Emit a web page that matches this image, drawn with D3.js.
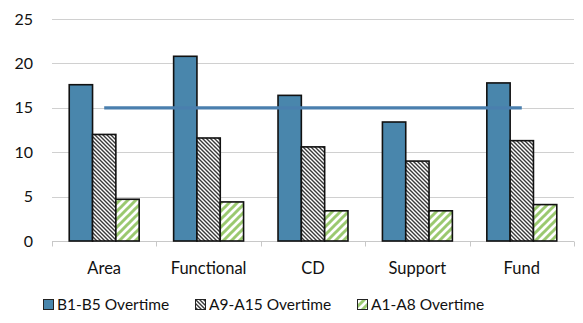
<!DOCTYPE html>
<html>
<head>
<meta charset="utf-8">
<script src="https://cdn.jsdelivr.net/npm/d3@7/dist/d3.min.js"></script>
<style>
  html, body { margin: 0; padding: 0; background: #fff; }
  svg { display: block; font-family: Lato, "Open Sans", sans-serif; }
</style>
</head>
<body>
<svg id="chart" width="583" height="323"></svg>
<script>
// Overtime hours by unit type
const categories = ["Area", "Functional", "CD", "Support", "Fund"];
const seriesNames = ["B1-B5 Overtime", "A9-A15 Overtime", "A1-A8 Overtime"];
const b1b5 = [17.6, 20.8, 16.4, 13.4, 17.8];
const a9a15 = [12.0, 11.6, 10.6, 9.0, 11.3];
const a1a8 = [4.7, 4.4, 3.4, 3.4, 4.1];
const target = [15, 15, 15, 15, 15];
const yTicks = [0, 5, 10, 15, 20, 25];

const series = [b1b5, a9a15, a1a8];
const fills = ["#4986ac", "url(#hatchDark)", "url(#hatchGreen)"];

const svg = d3.select("#chart");
const margin = { left: 52, right: 9, top: 19, bottom: 82 };
const W = 583, H = 323;

// patterns
const defs = svg.append("defs");
const pd = defs.append("pattern").attr("id", "hatchDark")
  .attr("patternUnits", "userSpaceOnUse").attr("width", 4).attr("height", 4);
pd.append("rect").attr("width", 4).attr("height", 4).attr("fill", "#fff");
pd.append("path").attr("d", "M-1,-1 L5,5 M-1,3 L1,5 M3,-1 L5,1")
  .attr("stroke", "#3a3a3a").attr("stroke-width", 1.4);

const pg = defs.append("pattern").attr("id", "hatchGreen")
  .attr("patternUnits", "userSpaceOnUse").attr("width", 8).attr("height", 8);
pg.append("rect").attr("width", 8).attr("height", 8).attr("fill", "#fff");
pg.append("path").attr("d", "M-2,10 L10,-2 M-2,2 L2,-2 M6,10 L10,6")
  .attr("stroke", "#9bc970").attr("stroke-width", 3);

const x = d3.scaleBand().domain(categories)
  .range([margin.left, W - margin.right]).paddingInner(0).paddingOuter(0);
const y = d3.scaleLinear().domain([0, 25]).range([H - margin.bottom, margin.top]);

const bw = x.bandwidth();
const groupPad = bw * 0.165;
const xs = d3.scaleBand().domain(d3.range(series.length))
  .range([groupPad, bw - groupPad]).padding(0);

// gridlines
svg.append("g").selectAll("line").data(yTicks.filter(d => d > 0)).join("line")
  .attr("x1", margin.left).attr("x2", W - margin.right)
  .attr("y1", d => Math.round(y(d)) + 0.5).attr("y2", d => Math.round(y(d)) + 0.5)
  .attr("stroke", "#d0d0d0").attr("stroke-width", 1);

// y axis labels
const yAxis = d3.axisLeft(y).tickValues(yTicks).tickSize(0).tickPadding(0);
const gy = svg.append("g").attr("transform", `translate(${margin.left - 19},0)`).call(yAxis);
gy.select(".domain").remove();
gy.selectAll("text").attr("font-size", 16).attr("fill", "#111")
  .style("font-family", "Lato, sans-serif");

// x axis baseline with category ticks
const base = Math.round(y(0)) + 0.5;
svg.append("line").attr("x1", margin.left).attr("x2", W - margin.right)
  .attr("y1", base).attr("y2", base).attr("stroke", "#c8c8c8");
const boundaries = categories.map(c => x(c)).concat([x(categories[categories.length - 1]) + bw]);
svg.append("g").selectAll("line").data(boundaries).join("line")
  .attr("x1", d => Math.round(d) + 0.5).attr("x2", d => Math.round(d) + 0.5)
  .attr("y1", base).attr("y2", base + 5).attr("stroke", "#c8c8c8");

svg.append("g").selectAll("text").data(categories).join("text")
  .attr("x", d => x(d) + bw / 2).attr("y", H - margin.bottom + 33)
  .attr("text-anchor", "middle").attr("font-size", 16.5).attr("fill", "#111")
  .text(d => d);

// bars
series.forEach((vals, si) => {
  svg.append("g").selectAll("rect").data(vals).join("rect")
    .attr("x", (d, i) => x(categories[i]) + xs(si))
    .attr("y", d => y(d))
    .attr("width", xs.bandwidth())
    .attr("height", d => y(0) - y(d))
    .attr("fill", fills[si])
    .attr("stroke", "#111").attr("stroke-width", 1.6);
});

// target line through category centres
const line = d3.line().x((d, i) => x(categories[i]) + bw / 2).y(d => y(d));
svg.append("path").datum(target).attr("d", line)
  .attr("fill", "none").attr("stroke", "#4a7fae").attr("stroke-width", 3.2);

// legend
const legendX = [43, 195, 357];
const lg = svg.append("g");
seriesNames.forEach((name, i) => {
  lg.append("rect").attr("x", legendX[i] + 0.5).attr("y", 299.5)
    .attr("width", 10).attr("height", 10)
    .attr("fill", fills[i]).attr("stroke", "#222").attr("stroke-width", 1);
  lg.append("text").attr("x", legendX[i] + 14).attr("y", 310)
    .attr("font-size", 15.5).attr("fill", "#111").text(name);
});
</script>
</body>
</html>
